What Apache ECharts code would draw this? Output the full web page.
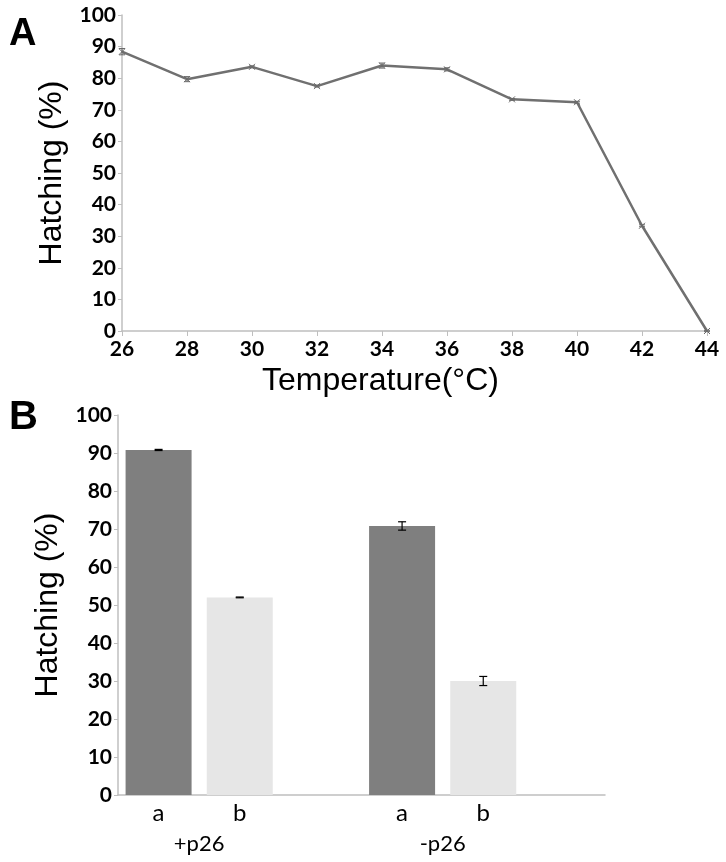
<!DOCTYPE html>
<html>
<head>
<meta charset="utf-8">
<script src="https://cdn.jsdelivr.net/npm/echarts@6/dist/echarts.min.js"></script>
<style>
html,body{margin:0;padding:0;background:#fff;}
#chart{width:726px;height:862px;}
</style>
</head>
<body>
<div id="chart"></div>
<script>
// ---- Panel A data ----
const temperatures = [26, 28, 30, 32, 34, 36, 38, 40, 42, 44];
const hatchingA    = [88.4, 79.7, 83.6, 77.5, 84.0, 82.8, 73.3, 72.4, 33.3, 0];
const hatchingAErr = [1.0, 0.8, 0.3, 0.3, 0.8, 0.5, 0.3, 0.3, 0.3, 0.2];

// ---- Panel B data ----
const barSlots    = ['a', 'b', '', 'a', 'b', ''];
const groupLabels = ['', '+p26', '', '', '-p26', '', ''];
const seriesA     = [90.8, 70.8];   // +p26 a, -p26 a
const seriesAErr  = [0.15, 1.1];
const seriesB     = [52.0, 30.0];   // +p26 b, -p26 b
const seriesBErr  = [0.1, 1.2];
const yTicks      = [0, 10, 20, 30, 40, 50, 60, 70, 80, 90, 100];

// slot positions for the bars in the 6-slot category axis
const slotA = [0, 3];
const slotB = [1, 4];
const barAData = barSlots.map(() => null);
const barBData = barSlots.map(() => null);
slotA.forEach((s, i) => barAData[s] = seriesA[i]);
slotB.forEach((s, i) => barBData[s] = seriesB[i]);
const errBData = [];
slotA.forEach((s, i) => errBData.push([s, seriesA[i], seriesAErr[i]]));
slotB.forEach((s, i) => errBData.push([s, seriesB[i], seriesBErr[i]]));
const errAData = temperatures.map((t, i) => [t, hatchingA[i], hatchingAErr[i]]);

const tickFont = {fontFamily: 'Lato', fontWeight: 'bold', fontSize: 21, color: '#000'};
const titleFont = {fontFamily: 'Liberation Sans', fontSize: 32, color: '#000'};
const axisGray = '#bfbfbf';

const chart = echarts.init(document.getElementById('chart'), null, {renderer: 'canvas'});

chart.setOption({
  animation: false,
  backgroundColor: '#fff',
  title: [
    {text: 'A', left: 4, top: 11, textStyle: {fontFamily: 'Liberation Sans', fontWeight: 'bold', fontSize: 38, color: '#000'}},
    {text: 'B', left: 4, top: 393, textStyle: {fontFamily: 'Liberation Sans', fontWeight: 'bold', fontSize: 40, color: '#000'}}
  ],
  grid: [
    {left: 122, top: 15, width: 585, height: 316},
    {left: 118, top: 415, width: 487, height: 380}
  ],
  xAxis: [
    {
      gridIndex: 0, type: 'value', min: 26, max: 44, interval: 2,
      axisLine: {lineStyle: {color: axisGray, width: 1.5}},
      axisTick: {show: true, length: 5, lineStyle: {color: axisGray}},
      splitLine: {show: false},
      axisLabel: Object.assign({margin: 8}, tickFont),
      name: 'Temperature(°C)', nameLocation: 'middle', nameGap: 34,
      nameTextStyle: Object.assign({padding: [0, 68, 0, 0]}, titleFont)
    },
    {
      gridIndex: 1, type: 'category', data: barSlots,
      axisLine: {lineStyle: {color: axisGray, width: 1.5}},
      axisTick: {show: false},
      axisLabel: {fontFamily: 'Lato', fontWeight: 'normal', fontSize: 24, color: '#000', margin: 6}
    },
    {
      gridIndex: 1, type: 'category', data: groupLabels, boundaryGap: false,
      position: 'bottom',
      axisLine: {show: false}, axisTick: {show: false},
      axisLabel: {fontFamily: 'Lato', fontSize: 22, color: '#000', margin: 38, interval: 0}
    }
  ],
  yAxis: [
    {
      gridIndex: 0, type: 'value', min: 0, max: 100, interval: 10,
      axisLine: {show: true, lineStyle: {color: axisGray, width: 1.5}},
      axisTick: {show: true, length: 4, lineStyle: {color: axisGray}},
      splitLine: {show: false},
      axisLabel: Object.assign({margin: 6}, tickFont),
      name: 'Hatching (%)', nameLocation: 'middle', nameGap: 48, nameTextStyle: titleFont
    },
    {
      gridIndex: 1, type: 'value', min: yTicks[0], max: yTicks[yTicks.length - 1], interval: 10,
      axisLine: {show: true, lineStyle: {color: axisGray, width: 1.5}},
      axisTick: {show: true, length: 4, lineStyle: {color: axisGray}},
      splitLine: {show: false},
      axisLabel: Object.assign({margin: 6}, tickFont),
      name: 'Hatching (%)', nameLocation: 'middle', nameGap: 46, nameTextStyle: titleFont
    }
  ],
  series: [
    {
      type: 'line', xAxisIndex: 0, yAxisIndex: 0,
      data: temperatures.map((t, i) => [t, hatchingA[i]]),
      symbol: 'none',
      lineStyle: {color: '#707070', width: 2.5},
      z: 2
    },
    {
      type: 'custom', xAxisIndex: 0, yAxisIndex: 0, data: errAData, z: 3,
      renderItem: function (params, api) {
        const x = api.value(0), y = api.value(1), e = api.value(2);
        const p = api.coord([x, y]);
        const hi = api.coord([x, y + e]);
        const lo = api.coord([x, y - e]);
        const s = 3, c = 3;
        const st = {stroke: '#6a6a6a', lineWidth: 1};
        return {type: 'group', children: [
          {type: 'line', shape: {x1: p[0], y1: hi[1], x2: p[0], y2: lo[1]}, style: st},
          {type: 'line', shape: {x1: p[0] - c, y1: hi[1], x2: p[0] + c, y2: hi[1]}, style: st},
          {type: 'line', shape: {x1: p[0] - c, y1: lo[1], x2: p[0] + c, y2: lo[1]}, style: st},
          {type: 'line', shape: {x1: p[0] - s, y1: p[1] - s, x2: p[0] + s, y2: p[1] + s}, style: st},
          {type: 'line', shape: {x1: p[0] - s, y1: p[1] + s, x2: p[0] + s, y2: p[1] - s}, style: st}
        ]};
      }
    },
    {
      type: 'bar', xAxisIndex: 1, yAxisIndex: 1, data: barAData,
      barWidth: 66, barGap: '-100%',
      itemStyle: {color: '#7f7f7f'}
    },
    {
      type: 'bar', xAxisIndex: 1, yAxisIndex: 1, data: barBData,
      barWidth: 66, barGap: '-100%',
      itemStyle: {color: '#e6e6e6'}
    },
    {
      type: 'custom', xAxisIndex: 1, yAxisIndex: 1, data: errBData, z: 5,
      renderItem: function (params, api) {
        const x = api.value(0), y = api.value(1), e = api.value(2);
        const p = api.coord([x, y]);
        const hi = api.coord([x, y + e]);
        const lo = api.coord([x, y - e]);
        const c = 4;
        const st = {stroke: '#000', lineWidth: 1.2};
        return {type: 'group', children: [
          {type: 'line', shape: {x1: p[0], y1: hi[1], x2: p[0], y2: lo[1]}, style: st},
          {type: 'line', shape: {x1: p[0] - c, y1: hi[1], x2: p[0] + c, y2: hi[1]}, style: st},
          {type: 'line', shape: {x1: p[0] - c, y1: lo[1], x2: p[0] + c, y2: lo[1]}, style: st}
        ]};
      }
    }
  ]
});
</script>
</body>
</html>
